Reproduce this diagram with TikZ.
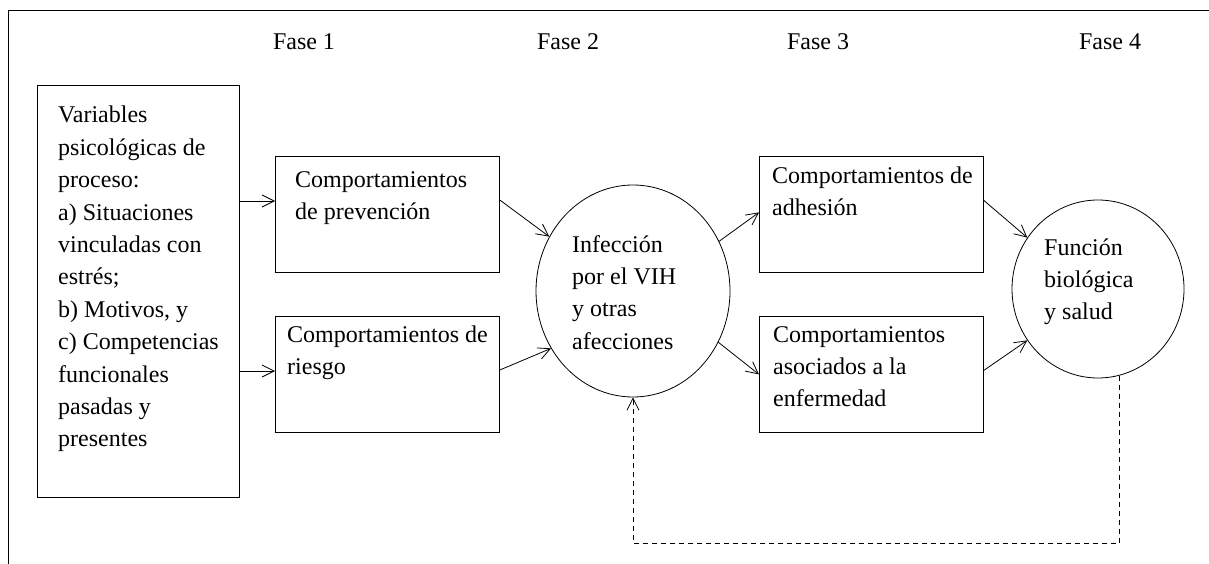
\documentclass[tikz,border=0pt]{standalone}
\usepackage{fontspec}
\setmainfont{Liberation Serif}
\usetikzlibrary{arrows.meta,shapes.geometric}
\newcommand\mltext[1]{\begin{tabular}[t]{@{}l@{}}#1\end{tabular}}
\begin{document}
\begin{tikzpicture}[x=1pt,y=-1pt,
  every node/.style={font=\fontsize{24}{32.4}\selectfont},
  boxnode/.style={draw,line width=0.8pt,rectangle,inner sep=0pt,anchor=north west},
  txt/.style={anchor=base west,inner sep=0pt},
  fase/.style={anchor=base,inner sep=0pt},
  oval/.style={draw,line width=0.8pt,ellipse,inner sep=0pt},
  arr/.style={line width=0.8pt,-{Straight Barb[length=12pt,width=12pt,line width=0.8pt]}},
  dashline/.style={line width=0.8pt,dash pattern=on 5pt off 4pt}
]
\useasboundingbox (0,0) rectangle (1209,564);
% frame
\coordinate (fbl) at (8,564);
\coordinate (ftl) at (8,10);
\coordinate (ftr) at (1209,10);
\draw[line width=0.9pt] (fbl) -- (ftl) -- (ftr);

% phase labels
\node[fase] (f1) at (304,50) {Fase 1};
\node[fase] (f2) at (568,50) {Fase 2};
\node[fase] (f3) at (818,50) {Fase 3};
\node[fase] (f4) at (1110,50) {Fase 4};

% boxes
\node[boxnode,minimum width=202pt,minimum height=412pt] (big) at (37,85) {};
\node[boxnode,minimum width=224pt,minimum height=116pt] (prev) at (275,156) {};
\node[boxnode,minimum width=224pt,minimum height=116pt] (ries) at (275,316) {};
\node[boxnode,minimum width=224pt,minimum height=116pt] (adh) at (759,156) {};
\node[boxnode,minimum width=224pt,minimum height=116pt] (aso) at (759,316) {};
\node[oval,minimum width=194pt,minimum height=212pt] (inf) at (633,291) {};
\node[oval,minimum width=172pt,minimum height=178pt] (fun) at (1098,289) {};

% texts
\node[txt] (bigt) at (58,123) {\mltext{Variables\\psicológicas de\\proceso:\\a) Situaciones\\vinculadas con\\estrés;\\b) Motivos, y\\c) Competencias\\funcionales\\pasadas y\\presentes}};
\node[txt] (prevt) at (295,187) {\mltext{Comportamientos\\de prevención}};
\node[txt] (riest) at (287,342) {\mltext{Comportamientos de\\riesgo}};
\node[txt] (adht) at (772,183) {\mltext{Comportamientos de\\adhesión}};
\node[txt] (asot) at (773,342) {\mltext{Comportamientos\\asociados a la\\enfermedad}};
\node[txt] (inft) at (572,252) {\mltext{Infección\\por el VIH\\y otras\\afecciones}};
\node[txt] (funt) at (1044,255) {\mltext{Función\\biológica\\y salud}};

% connectors
\draw[arr] (big.east |- 0,201) -- (prev.west |- 0,201);
\draw[arr] (big.east |- 0,371) -- (ries.west |- 0,371);
\draw[arr] (prev.east |- 0,200) -- (inf.147);
\draw[arr] (ries.east |- 0,370) -- (inf.215);
\draw[arr] (inf.30) -- ([yshift=2pt]adh.west);
\draw[arr] (inf.329) -- (aso.west);
\draw[arr] ([yshift=14pt]adh.east) -- (fun.144);
\draw[arr] ([yshift=4pt]aso.east) -- (fun.216);
\coordinate (dl) at (inf.south |- 0,543);
\draw[dashline,arr] (fun.284) |- (dl) -- (inf.south);
\end{tikzpicture}
\end{document}
